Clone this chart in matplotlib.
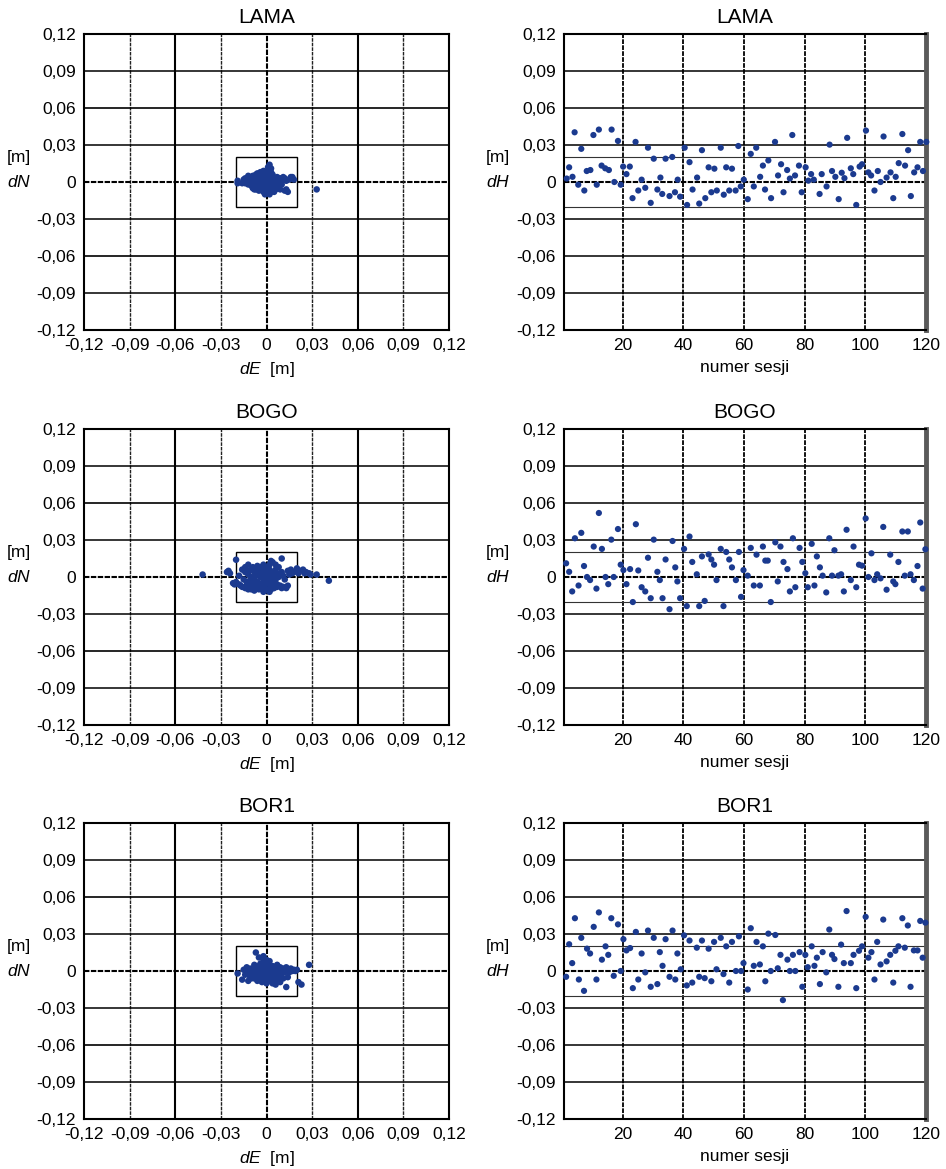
import matplotlib
matplotlib.use("Agg")
import numpy as np
import matplotlib.pyplot as plt
from matplotlib.patches import Rectangle
from matplotlib.ticker import FixedLocator, FuncFormatter
from matplotlib.transforms import blended_transform_factory

plt.rcParams["font.family"] = ["Liberation Sans", "DejaVu Sans"]
plt.rcParams["mathtext.fontset"] = "custom"
plt.rcParams["mathtext.it"] = "Liberation Sans:italic"
plt.rcParams["mathtext.rm"] = "Liberation Sans"

# ---------------------------------------------------------------- data
stations = ["LAMA", "BOGO", "BOR1"]
axis_ticks = [-0.12, -0.09, -0.06, -0.03, 0.0, 0.03, 0.06, 0.09, 0.12]
session_ticks = [20, 40, 60, 80, 100, 120]

# horizontal offsets (dE, dN) in millimetres
lama_dE_mm = [33, -19, -19, 17, 18, 16, 14, 12, 13, 2, 1, 3,
              -14, -12, -11, -10, -13, -12, -10, -9, -8, -7, -8, -7, -6, -5,
              -5, -4, -4, -3, -2, -1, -2, -3, -2, -1, 0, 0, 0, 0, 1, 1, 2, 2,
              2, 3, 3, 4, 4, 4, 5, 5, 6, 6, 6, 7, 7, 8, 8, 9, 9, 10, 10, 11,
              -6, -9, -11, -5, -1, 1, 3, -15, -16, -6, -4, -2, -1, 0, 2, 3,
              -13, -11, -9, -7, -5, -3, -1, 1, 3, 5, 7, 9, -12, -10, -8, -6,
              -4, -2, 0, 2, 4, 6, 8, -7, -5, -3, -1, 1, 3, 5, -9, -7, -3, 1,
              2, -14, 13, 15, 12]
lama_dN_mm = [-6, -1, 1, 4, 2, 4, -8, -7, -6, 14, 12, 11,
              3, 5, 4, 2, 0, -2, -3, -5, -6, -4, 1, 3, 5, 4,
              1, -1, -3, -6, -8, -7, -4, 0, 2, 5, 7, 3, 0, -2, -5, -9, -7, -3,
              1, 4, 8, 6, 2, -1, -4, -8, -6, -2, 1, 4, -5, -3, 0, 3, -6, -2, 1, 4,
              -2, -1, -1, -7, -1, 2, -2, 2, -1, 7, 8, 9, -10, -9, -10, -8,
              1, 2, 3, 2, 3, 3, 3, 4, 3, 2, 2, 1, -1, -1, -2, -3,
              -2, -1, -4, -5, -4, -4, -2, -6, -5, -3, -5, -7, -6, -6, 5, 6, 6, 9,
              11, -1, 1, 2, 3]

bogo_dE_mm = [-42, -26, -24, -25, -20, 10, 33, 41, -22, -21,
              14, 16, 18, 20, 22, 24, 26, 28, 29, 17, 21, 25, 15,
              -20, -18, -16, -14, -12, -10, -8, -17, -13,
              9, 11, 13, 14, 10,
              -14, -12, -10, -8, -6, -4, -2, 0, 2, 4, 0, -2, 2, -4, -6, -8,
              -10, -12, -6, -4, -2, 0, 2, 4, 6, 8, 6, 4, 2, 0, -2, -4, 0, 2,
              4, 6, 8, 6, 10, -1, 1, 3, 5, 7, -3, -5, -9, -11, -7, 3,
              -16, -14, -12, -9, -6, -3, -1, 1, 3, 5, 7, 9, 11, -15, -13, -11,
              -9, -7, -5, -3, -1, 1, 3, 5, 7, -5, -8, 12, -18]
bogo_dN_mm = [2, 4, 3, 5, 14, 15, 2, -3, -5, -6,
              5, 6, 4, 7, 5, 6, 4, 3, 2, 3, 3, 3, 2,
              -4, -6, -8, -9, -10, -10, -11, -7, -7,
              -7, -8, -9, -7, -9,
              8, 10, 6, 4, 2, 0, -2, -4, -6, -8, -10, -12, -12, -6, -4, -2,
              0, 2, 6, 8, 10, 8, 6, 4, 2, 0, -2, -2, 2, 0, 4, 4, 4, 10,
              12, 10, 8, 6, 4, -7, -3, 0, -5, -6, -9, -10, -6, -3, 1, 13,
              6, 4, 5, 8, 9, 6, 2, -1, -3, 1, 3, 2, 1, -2, -4, -6,
              -8, -9, -7, -5, -9, -11, -10, -9, -8, 2, 6, -2, 1]

bor1_dE_mm = [-7, -5, -2, -19, -16, 28, 23, 21, 14, 13,
              -15, -13, -12, -11, -10, -9, -8, -8, -7, -6, -6, -5, -4, -4, -3,
              -3, -2, -1, -1, 0, 0, 1, 1, 2, 2, 3, 3, 4, 4, 5, 5, 6, 6, 7, 7,
              8, 8, 9, 9, 10, 10, 11, 12, 12, 13, 14, 15, 16, 17, 18, 19, 20,
              -10, -12, -2, 0, 2, -14, 11, 6,
              -14, -12, -11, -9, -7, -5, -3, -1, 1, 3, 5, 7, 9, 11, 13, 15,
              -10, -8, -6, -4, -2, 0, 2, 4, 6, 8, -5, -3, -1, 1]
bor1_dN_mm = [15, 11, 12, -2, -7, 5, -11, -9, -5, -13,
              1, 3, -1, -4, 2, -3, 5, -6, 0, 3, -8, -2, 6, -5, 1,
              -9, -3, 4, -7, 0, -10, -4, 6, 2, -8, -1, -6, 4, -10, 0, -3, 2, -7, -1, 5,
              -4, 1, 3, -9, 0, -2, 2, -1, 1, 3, 0, 1, 2, 0, 1, 0, 1,
              -6, -8, 8, 9, 8, -3, -6, -11,
              1, 2, -2, 0, 3, 1, -1, 1, -1, 2, 3, 2, 0, -1, 1, -1,
              -3, -4, -5, -7, -6, -5, -5, -7, -4, -6, 4, 5, 7, 3]

# height offsets dH [m] per session
lama_sess = [1.5, 2.3, 3.4, 4.1, 5.3, 6.3, 7.3, 8.1, 9.3, 10.3,
             11.4, 12.1, 13.0, 14.2, 15.4, 16.3, 17.2, 18.4, 19.3, 20.1,
             21.2, 22.3, 23.2, 24.2, 25.1, 26.2, 27.4, 28.3, 29.2, 30.2,
             31.4, 32.4, 33.0, 34.1, 35.4, 36.3, 37.2, 38.1, 38.9, 40.4,
             41.2, 42.0, 43.0, 44.5, 45.2, 46.1, 47.2, 48.3, 49.2, 50.2,
             51.0, 52.3, 53.3, 54.1, 55.1, 56.0, 57.2, 58.1, 58.9, 59.9,
             61.2, 62.2, 63.2, 64.0, 65.3, 66.2, 66.9, 68.0, 68.9, 70.2,
             71.2, 72.2, 73.0, 74.2, 75.1, 75.9, 76.8, 78.1, 79.0, 80.3,
             81.2, 82.1, 83.0, 84.9, 85.6, 87.2, 88.2, 89.0, 90.1, 91.2,
             92.2, 93.1, 94.0, 95.2, 96.0, 97.0, 98.1, 98.9, 100.2, 101.0,
             101.9, 103.0, 104.1, 105.0, 106.0, 107.0, 108.3, 109.2, 110.0, 111.0,
             112.2, 113.1, 114.1, 115.0, 116.1, 117.2, 118.1, 119.0, 120.1]
lama_dH = [0.0028, 0.0119, 0.0042, 0.0403, -0.0022, 0.0269, -0.0069, 0.0089, 0.0097, 0.0381,
           -0.0022, 0.0425, 0.0133, 0.0111, 0.0097, 0.0425, 0.0, 0.0333, -0.0022, 0.0125,
           0.0064, 0.0125, -0.0131, 0.0325, -0.0069, 0.0019, -0.0047, 0.0278, -0.0169, 0.0189,
           -0.0061, 0.0036, -0.0097, 0.0189, -0.0114, 0.0203, -0.0083, 0.0019, -0.0119, 0.0278,
           -0.0186, 0.0161, -0.0061, 0.0036, -0.0175, 0.0258, -0.0131, 0.0119, -0.0083, 0.0108,
           -0.0069, 0.0278, -0.0103, 0.0119, -0.0069, 0.0108, -0.0069, 0.0292, -0.0036, 0.0019,
           -0.0139, 0.0228, -0.0036, 0.0278, 0.0042, 0.0133, -0.0061, 0.0175, -0.0131, 0.0325,
           0.0053, 0.0144, -0.0083, 0.0097, 0.0028, 0.0381, 0.0053, 0.0133, -0.0083, 0.0119,
           0.0011, 0.0064, 0.0019, -0.0097, 0.0064, -0.0036, 0.0303, 0.0089, 0.0042, -0.0139,
           0.0075, 0.0031, 0.0358, 0.0111, 0.0064, -0.0186, 0.0125, 0.0144, 0.0417, 0.0078,
           0.0053, -0.0069, 0.0089, 0.0, 0.0369, 0.0036, 0.0078, -0.0131, 0.0042, 0.0153,
           0.0389, 0.0133, 0.0258, -0.0114, 0.0078, 0.0119, 0.0325, 0.0089, 0.0325]

bogo_sess = [1.3, 2.3, 3.3, 4.2, 5.4, 6.3, 7.2, 8.2, 9.2, 10.4,
             11.3, 12.1, 13.1, 14.3, 15.2, 16.2, 17.0, 18.4, 19.3, 20.2,
             21.2, 22.4, 23.3, 24.3, 25.1, 26.2, 27.4, 28.3, 29.2, 30.2,
             31.4, 32.2, 33.1, 34.1, 35.4, 36.4, 37.3, 38.0, 38.9, 40.2,
             41.1, 42.0, 42.9, 44.4, 45.2, 46.1, 47.0, 48.3, 49.2, 50.1,
             50.9, 52.3, 53.2, 54.1, 55.1, 56.0, 57.3, 58.3, 59.0, 59.8,
             61.2, 62.2, 63.2, 64.1, 65.2, 66.2, 67.0, 67.8, 68.8, 70.3,
             71.1, 72.0, 73.0, 74.3, 75.1, 76.1, 76.9, 78.3, 79.2, 80.2,
             81.0, 82.3, 83.2, 84.0, 85.0, 85.9, 87.1, 88.1, 89.0, 89.8,
             91.1, 92.0, 92.9, 93.8, 95.2, 96.1, 97.0, 97.9, 98.9, 100.1,
             101.0, 102.0, 103.0, 103.9, 105.0, 105.9, 107.0, 108.2, 109.2, 109.9,
             110.9, 112.2, 113.0, 114.0, 114.9, 116.0, 117.2, 118.1, 118.9, 119.8]
bogo_dH = [0.0111, 0.0042, -0.0117, 0.0314, -0.0069, 0.0358, 0.0089, 0.0, -0.0025, 0.0247,
           -0.0094, 0.0519, 0.0228, 0.0, -0.0058, 0.0303, 0.0, 0.0389, 0.01, 0.0056,
           -0.0058, 0.0064, -0.0203, 0.0428, 0.0053, -0.0083, -0.0117, 0.0156, -0.0172, 0.0303,
           0.0042, -0.0025, -0.0172, 0.0142, -0.0261, 0.0292, 0.0078, -0.0036, -0.0172, 0.0228,
           -0.0236, 0.0328, 0.0122, 0.0022, -0.0236, 0.0167, -0.0194, 0.0183, 0.0142, 0.01,
           -0.0025, 0.0228, -0.0236, 0.0203, 0.0142, 0.0078, -0.0025, 0.0203, -0.0161, 0.0056,
           0.0011, 0.0236, -0.0069, 0.0181, -0.0069, 0.0247, 0.0133, 0.0133, -0.0203, 0.0281,
           -0.0036, 0.0247, 0.0122, 0.0064, -0.0117, 0.0314, -0.0083, 0.0236, 0.0122, 0.0031,
           -0.0083, 0.0269, -0.0069, 0.0167, 0.0078, 0.0011, -0.0125, 0.0314, 0.0011, 0.0217,
           0.0011, 0.0022, -0.0117, 0.0383, -0.0025, 0.0247, -0.0083, 0.01, 0.0092, 0.0475,
           0.0, 0.0192, -0.0025, 0.0022, -0.0011, 0.0406, -0.0103, 0.0181, -0.0036, -0.0058,
           0.0122, 0.0369, 0.0011, 0.0369, 0.0022, -0.0025, 0.0089, 0.0442, -0.0094, 0.0225]

bor1_sess = [1.3, 2.3, 3.3, 4.2, 5.5, 6.3, 7.2, 8.2, 9.2, 10.4,
             11.3, 12.1, 13.1, 14.3, 15.2, 16.2, 17.0, 18.4, 19.3, 20.2,
             21.2, 22.4, 23.3, 24.3, 25.1, 26.2, 27.4, 28.3, 29.2, 30.2,
             31.4, 32.2, 33.1, 34.1, 35.4, 36.4, 37.3, 38.0, 39.1, 40.2,
             41.1, 42.0, 42.9, 44.4, 45.2, 46.1, 47.0, 48.3, 49.2, 50.1,
             50.9, 52.3, 53.2, 54.1, 55.1, 56.0, 57.3, 58.3, 59.0, 59.8,
             61.2, 62.2, 63.2, 64.1, 65.2, 66.2, 67.0, 68.0, 68.8, 70.3,
             71.1, 72.0, 72.8, 74.3, 75.1, 76.1, 76.9, 78.3, 79.2, 80.2,
             81.0, 82.3, 83.2, 84.0, 85.0, 85.9, 87.1, 88.1, 89.0, 89.8,
             91.1, 92.0, 92.9, 93.8, 95.2, 96.1, 97.0, 97.9, 98.9, 100.1,
             101.0, 102.0, 103.0, 103.9, 105.0, 105.9, 107.0, 108.2, 109.2, 109.9,
             110.9, 112.2, 113.0, 114.0, 114.9, 116.0, 117.2, 118.1, 118.9, 119.8]
bor1_dH = [-0.0047, 0.0217, 0.0064, 0.0428, -0.0069, 0.0269, -0.0161, 0.0181, 0.0142, 0.0358,
           -0.0069, 0.0475, 0.0092, 0.02, 0.0131, 0.0428, -0.0039, 0.0378, 0.0, 0.0258,
           0.0167, 0.0186, -0.0139, 0.0317, -0.0069, 0.0142, -0.0011, 0.0328, -0.0128, 0.0269,
           -0.0106, 0.0153, 0.0042, 0.0258, -0.0047, 0.0328, -0.0069, 0.0142, 0.0014, 0.0289,
           -0.0117, 0.0247, -0.0094, 0.0189, -0.0047, 0.0247, -0.0058, 0.0181, -0.0083, 0.0236,
           0.0014, 0.0269, -0.0025, 0.02, -0.0094, 0.0236, 0.0, 0.0281, 0.0, 0.0064,
           -0.015, 0.0347, 0.0042, 0.0236, 0.0053, 0.02, -0.0083, 0.0303, 0.0, 0.0292,
           0.0022, 0.0131, -0.0236, 0.0092, 0.0, 0.0131, 0.0, 0.0153, -0.0128, 0.0131,
           0.0031, 0.02, 0.0042, 0.0108, -0.0106, 0.0153, -0.0011, 0.0336, 0.0131, 0.0097,
           -0.0128, 0.0214, 0.0064, 0.0486, 0.0064, 0.0131, -0.0139, 0.0164, 0.02, 0.0439,
           0.0108, 0.0153, -0.0069, 0.0236, 0.0053, 0.0417, 0.0078, 0.0131, -0.0094, 0.0164,
           0.02, 0.0428, 0.0189, 0.0369, -0.0128, 0.0167, 0.0167, 0.0406, 0.0108, 0.0392]

horizontal = [(lama_dE_mm, lama_dN_mm), (bogo_dE_mm, bogo_dN_mm), (bor1_dE_mm, bor1_dN_mm)]
vertical = [(lama_sess, lama_dH), (bogo_sess, bogo_dH), (bor1_sess, bor1_dH)]

# ---------------------------------------------------------------- style
DOT = "#1b3a8f"
FS = 12.5
DASH = (0, (2.6, 0.7))


def comma_fmt(v, pos=None):
    if abs(v) < 1e-9:
        return "0"
    return f"{v:.2f}".replace(".", ",")


def base_axes(ax):
    ax.set_ylim(-0.12, 0.12)
    ax.yaxis.set_major_locator(FixedLocator(axis_ticks))
    ax.yaxis.set_major_formatter(FuncFormatter(comma_fmt))
    ax.tick_params(length=0, pad=6, labelsize=FS)
    for sp in ax.spines.values():
        sp.set_linewidth(1.5)
        sp.set_color("black")
    ax.set_facecolor("white")


def side_label(ax, name, xpos):
    tr = blended_transform_factory(ax.transAxes, ax.transData)
    ax.text(xpos, 0.0195, "[m]", transform=tr, ha="center", va="center", fontsize=FS)
    ax.text(xpos, 0.0, name, transform=tr, ha="center", va="center", fontsize=FS)


fig = plt.figure(figsize=(9.46, 11.69), dpi=100)
W, H = 946.0, 1169.0
row_tops = [34, 429, 823]
panel_h = 296

for i, name in enumerate(stations):
    bottom = 1 - (row_tops[i] + panel_h) / H
    height = panel_h / H

    # ---- horizontal scatter dN vs dE
    ax = fig.add_axes([84 / W, bottom, 365 / W, height])
    base_axes(ax)
    ax.set_xlim(-0.12, 0.12)
    ax.xaxis.set_major_locator(FixedLocator(axis_ticks))
    ax.xaxis.set_major_formatter(FuncFormatter(comma_fmt))
    for v in axis_ticks[1:-1]:
        if abs(v) < 1e-9:
            ax.axvline(v, color="black", lw=1.5, ls=DASH, zorder=1)
            ax.axhline(v, color="black", lw=1.5, ls=DASH, zorder=1)
        elif abs(abs(v) - 0.06) < 1e-9:
            ax.axvline(v, color="black", lw=1.5, zorder=1)
            ax.axhline(v, color="black", lw=1.2, zorder=1)
        else:
            ax.axvline(v, color="#222222", lw=1.0, ls=DASH, zorder=1)
            ax.axhline(v, color="black", lw=1.1, zorder=1)
    ax.add_patch(Rectangle((-0.02, -0.02), 0.04, 0.04, fill=False,
                           ec="black", lw=1.0, zorder=2))
    de, dn = horizontal[i]
    ax.scatter(np.array(de) / 1000.0, np.array(dn) / 1000.0, s=22,
               color=DOT, edgecolors="none", zorder=3)
    ax.set_title(name, fontsize=15, pad=8)
    ax.set_xlabel(r"$\mathit{dE}$  [m]", fontsize=FS, labelpad=5)
    side_label(ax, r"$\mathit{dN}$", -0.178)

    # ---- height offsets dH vs session number
    ax2 = fig.add_axes([564 / W, bottom, 362 / W, height])
    base_axes(ax2)
    ax2.set_xlim(0.6, 120)
    ax2.xaxis.set_major_locator(FixedLocator(session_ticks))
    for v in session_ticks[:-1]:
        ax2.axvline(v, color="black", lw=1.3, ls=DASH, zorder=1)
    for v in axis_ticks[1:-1]:
        if abs(v) < 1e-9:
            ax2.axhline(v, color="black", lw=1.5, ls=DASH, zorder=1)
        else:
            ax2.axhline(v, color="black", lw=1.1, zorder=1)
    for v in (-0.02, 0.02):
        ax2.axhline(v, color="#333333", lw=0.8, zorder=1)
    ax2.spines["right"].set_linewidth(3.5)
    ax2.spines["right"].set_color("#5a5a5a")
    s, dh = vertical[i]
    ax2.scatter(s, dh, s=20, color=DOT, edgecolors="none", zorder=3, clip_on=False)
    ax2.set_title(name, fontsize=15, pad=8)
    ax2.set_xlabel("numer sesji", fontsize=FS, labelpad=5)
    side_label(ax2, r"$\mathit{dH}$", -0.182)

fig.savefig("out.png", dpi=100, facecolor="white")
